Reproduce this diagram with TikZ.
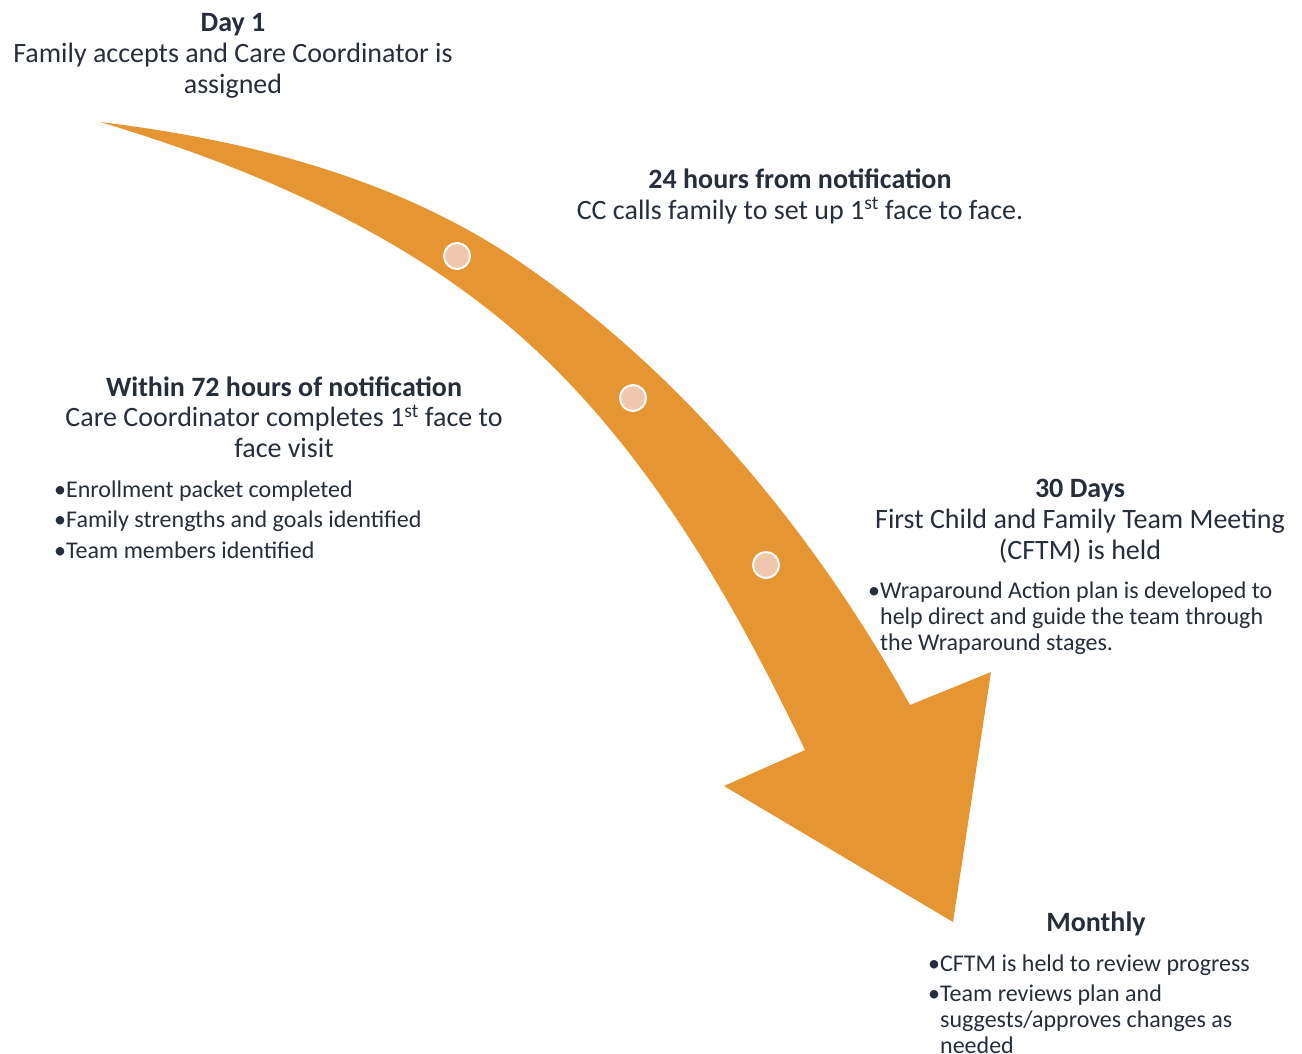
\documentclass[tikz,border=0pt]{standalone}
\usepackage{fontspec}
\setmainfont{Carlito}
\definecolor{arroworange}{HTML}{E69533}
\definecolor{dotfill}{HTML}{F0C6AC}
\definecolor{txt}{HTML}{262D3B}
\tikzset{
  hd/.style={align=center, font=\fontsize{28}{31}\selectfont, text=txt, inner sep=0pt, anchor=base},
  bl/.style={align=left, font=\fontsize{24}{26}\selectfont, text=txt, inner sep=0pt, anchor=base west},
  dot/.style={circle, fill=dotfill, draw=white, line width=2pt, minimum size=26pt, inner sep=0pt}
}
\begin{document}
\begin{tikzpicture}[x=1pt,y=-1pt]
\useasboundingbox (0,0) rectangle (1302,1053);
% curved arrow
\fill[arroworange] (100,122) .. controls (246,139.5) and (396,178) .. (517,260)
  .. controls (681,371) and (814,532) .. (910,705)
  -- (991,672) -- (953,922) -- (724,786) -- (805,750)
  .. controls (726,584) and (626.5,414) .. (480,303)
  .. controls (369,218) and (234,162) .. (100,122) -- cycle;
% dots
\node[dot] (c1) at (457,256) {};
\node[dot] (c2) at (633,398) {};
\node[dot] (c3) at (766,565) {};
% texts (anchor = baseline of the last line)
\node[hd] (day1) at (233,93) {\textbf{Day 1}\\Family accepts and Care Coordinator is\\assigned};
\node[hd] (h24) at (800,219) {\textbf{24 hours from notification}\\CC calls family to set up 1\textsuperscript{st} face to face.};
\node[hd, font=\fontsize{28}{30.5}\selectfont] (h72) at (284,457) {\textbf{Within 72 hours of notification}\\Care Coordinator completes 1\textsuperscript{st} face to\\face visit};
\node[bl] (b72) at (54,558) {•Enrollment packet completed\\[4.5pt]•Family strengths and goals identified\\[4.5pt]•Team members identified};
\node[hd] (d30) at (1080,559) {\textbf{30 Days}\\First Child and Family Team Meeting\\(CFTM) is held};
\node[bl] (b30) at (868,650) {•Wraparound Action plan is developed to\\\hphantom{•}help direct and guide the team through\\\hphantom{•}the Wraparound stages.};
\node[hd] (mon) at (1096,931) {\textbf{Monthly}};
\node[bl] (bmon) at (928,1053) {•CFTM is held to review progress\\[4pt]•Team reviews plan and\\\hphantom{•}suggests/approves changes as\\\hphantom{•}needed};
\end{tikzpicture}
\end{document}
